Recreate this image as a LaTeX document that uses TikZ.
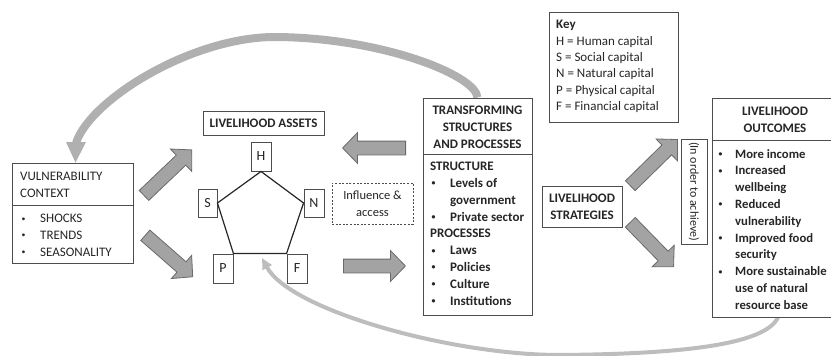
\documentclass[tikz,border=0pt]{standalone}
\usepackage{fontspec}
\setmainfont{Carlito}
\usetikzlibrary{shapes.arrows,arrows.meta}
\definecolor{boxc}{HTML}{4D4D4D}
\definecolor{txtc}{HTML}{262626}
\definecolor{arrowfill}{HTML}{A3A3A3}
\definecolor{arrowline}{HTML}{6A6A6A}
\definecolor{curvec}{HTML}{B0B0B0}
\definecolor{curvelt}{HTML}{BDBDBD}
\newcommand\myfs{\fontsize{13}{16.8}\selectfont}
\newcommand\kfs{\fontsize{13}{16.4}\selectfont}
\newcommand\pfs{\fontsize{14}{16}\selectfont}
\newcommand\ifs{\fontsize{12.5}{16.7}\selectfont}
\newcommand\ofs{\fontsize{12}{14}\selectfont}
\newcommand\bu{\makebox[20pt][l]{\hspace{1.5pt}\raisebox{0.25ex}{\scalebox{0.6}{\textbullet}}}}
\newcommand\ind{\hspace*{20pt}}
\newcommand\bus{\makebox[18pt][l]{\hspace{1.5pt}\raisebox{0.25ex}{\scalebox{0.6}{\textbullet}}}}
\newcommand\inds{\hspace*{18pt}}
\tikzset{
  box/.style={draw=boxc, line width=0.9pt, inner sep=0pt, fill=white, text=txtc},
  divline/.style={draw=boxc, line width=0.9pt},
  txt/.style={inner sep=0pt, anchor=north west, align=left, text=txtc, font=\myfs},
  blk/.style={single arrow, draw=arrowline, fill=arrowfill, line width=0.8pt,
    inner sep=6.5pt, single arrow head extend=8.5pt, single arrow tip angle=92,
    minimum height=#1, anchor=tail},
  bigcurve/.style={draw=curvec, line width=8pt},
  smallcurve/.style={draw=curvelt, line width=4pt},
  penta/.style={draw=txtc, line width=1.2pt, line join=miter},
}
\begin{document}
\begin{tikzpicture}[x=1pt,y=-1pt]
\useasboundingbox (0,0) rectangle (831,356);

% ---- boxes (positions) ----
\node[box, minimum width=121pt, minimum height=100pt] (vc) at (72.5,213) {};
\node[box, minimum width=109pt, minimum height=217pt] (tf) at (477.5,206.5) {};
\node[box, minimum width=126pt, minimum height=219pt] (lo) at (775,207.5) {};

% ---- feedback curves ----
\path[bigcurve] (tf.north) .. controls (476,75) and (380,37) .. (273,37)
  .. controls (190,38) and (90,100) .. (76,143);
\fill[curvec] (66,142) -- (86,142) -- ([xshift=3pt]vc.north) -- cycle;
\draw[smallcurve, -{Triangle[length=11pt,width=10pt]}] ([xshift=3pt]lo.south)
  .. controls (765,345) and (680,354) .. (560,355)
  .. controls (450,355) and (290,310) .. (262,258);

% redraw boxes on top of curves
\node[box, minimum width=121pt, minimum height=100pt] (vc2) at (72.5,213) {};
\node[box, minimum width=109pt, minimum height=217pt] (tf2) at (477.5,206.5) {};
\node[box, minimum width=126pt, minimum height=219pt] (lo2) at (775,207.5) {};

% ---- vulnerability context ----
\draw[divline] (vc.west |- 0,205) -- (vc.east |- 0,205);
\node[txt] (vct) at (20,172) {VULNERABILITY\\CONTEXT};
\node[txt] (vcb) at (20,214) {\bu SHOCKS\\\bu TRENDS\\\bu SEASONALITY};

% ---- livelihood assets ----
\node[box, minimum width=121pt, minimum height=24pt, font=\myfs\bfseries] (la) at (263.5,123) {LIVELIHOOD ASSETS};
\node[box, minimum width=20pt, minimum height=29pt, font=\pfs] (H) at (261,156.5) {H};
\node[box, minimum width=19pt, minimum height=28pt, font=\pfs] (S) at (207.5,203) {S};
\node[box, minimum width=20pt, minimum height=28pt, font=\pfs] (N) at (314,203) {N};
\node[box, minimum width=20pt, minimum height=29pt, font=\pfs] (P) at (223,268.5) {P};
\node[box, minimum width=20pt, minimum height=29pt, font=\pfs] (F) at (297,268.5) {F};
\draw[penta] (H.south) -- (N.west) -- (F.north west) -- (P.north east) -- (S.east) -- cycle;

% ---- influence & access ----
\node[box, dash pattern=on 2pt off 1.6pt, line width=0.8pt, minimum width=81pt, minimum height=41pt,
  align=center, font=\ifs] (ia) at (372.5,203.5) {Influence \&\\access};

% ---- transforming structures ----
\draw[divline] (tf.west |- 0,154) -- (tf.east |- 0,154);
\node[txt, anchor=north, align=center, font=\myfs\bfseries] (tfh) at (477.5,106)
  {TRANSFORMING\\STRUCTURES\\AND PROCESSES};
\node[txt, font=\myfs\bfseries] (tfb) at (430,162)
  {STRUCTURE\\\bu Levels of\\\ind government\\\bu Private sector\\PROCESSES\\\bu Laws\\\bu Policies\\\bu Culture\\\bu Institutions};

% ---- key ----
\node[box, minimum width=129pt, minimum height=110pt] (ky) at (613.5,67) {};
\node[txt, font=\kfs] (kyt) at (556,20)
  {\textbf{Key}\\H = Human capital\\S = Social capital\\N = Natural capital\\P = Physical capital\\F = Financial capital};

% ---- livelihood strategies ----
\node[box, minimum width=80pt, minimum height=41pt, align=center, font=\myfs\bfseries] (ls) at (582,206.5)
  {LIVELIHOOD\\STRATEGIES};

% ---- in order to achieve ----
\node[box, minimum width=26pt, minimum height=105pt] (io) at (694,191.5) {};
\node[inner sep=0pt, rotate=-90, font=\ofs, text=txtc] (iot) at (io.center) {(In order to achieve)};

% ---- livelihood outcomes ----
\draw[divline] (lo.west |- 0,140) -- (lo.east |- 0,140);
\node[txt, anchor=north, align=center, font=\myfs\bfseries] (loh) at (775,107) {LIVELIHOOD\\OUTCOMES};
\node[txt, font=\fontsize{12.7}{16.8}\selectfont\bfseries] (lob) at (717,149)
  {\bus More income\\\bus Increased\\\inds wellbeing\\\bus Reduced\\\inds vulnerability\\\bus Improved food\\\inds security\\\bus More sustainable\\\inds use of natural\\\inds resource base};

% ---- block arrows ----
\node[blk=66pt, rotate=43.6] (a1) at (143.7,195.7) {};
\node[blk=63pt, rotate=-41.2] (a2) at (145,235) {};
\node[blk=63pt, rotate=180] (a3) at (406,148) {};
\node[blk=62pt, rotate=0] (a4) at (343,266) {};
\node[blk=66pt, rotate=44.4] (a5) at (630,186) {};
\node[blk=62pt, rotate=-45.7] (a6) at (630,222) {};
\end{tikzpicture}
\end{document}
